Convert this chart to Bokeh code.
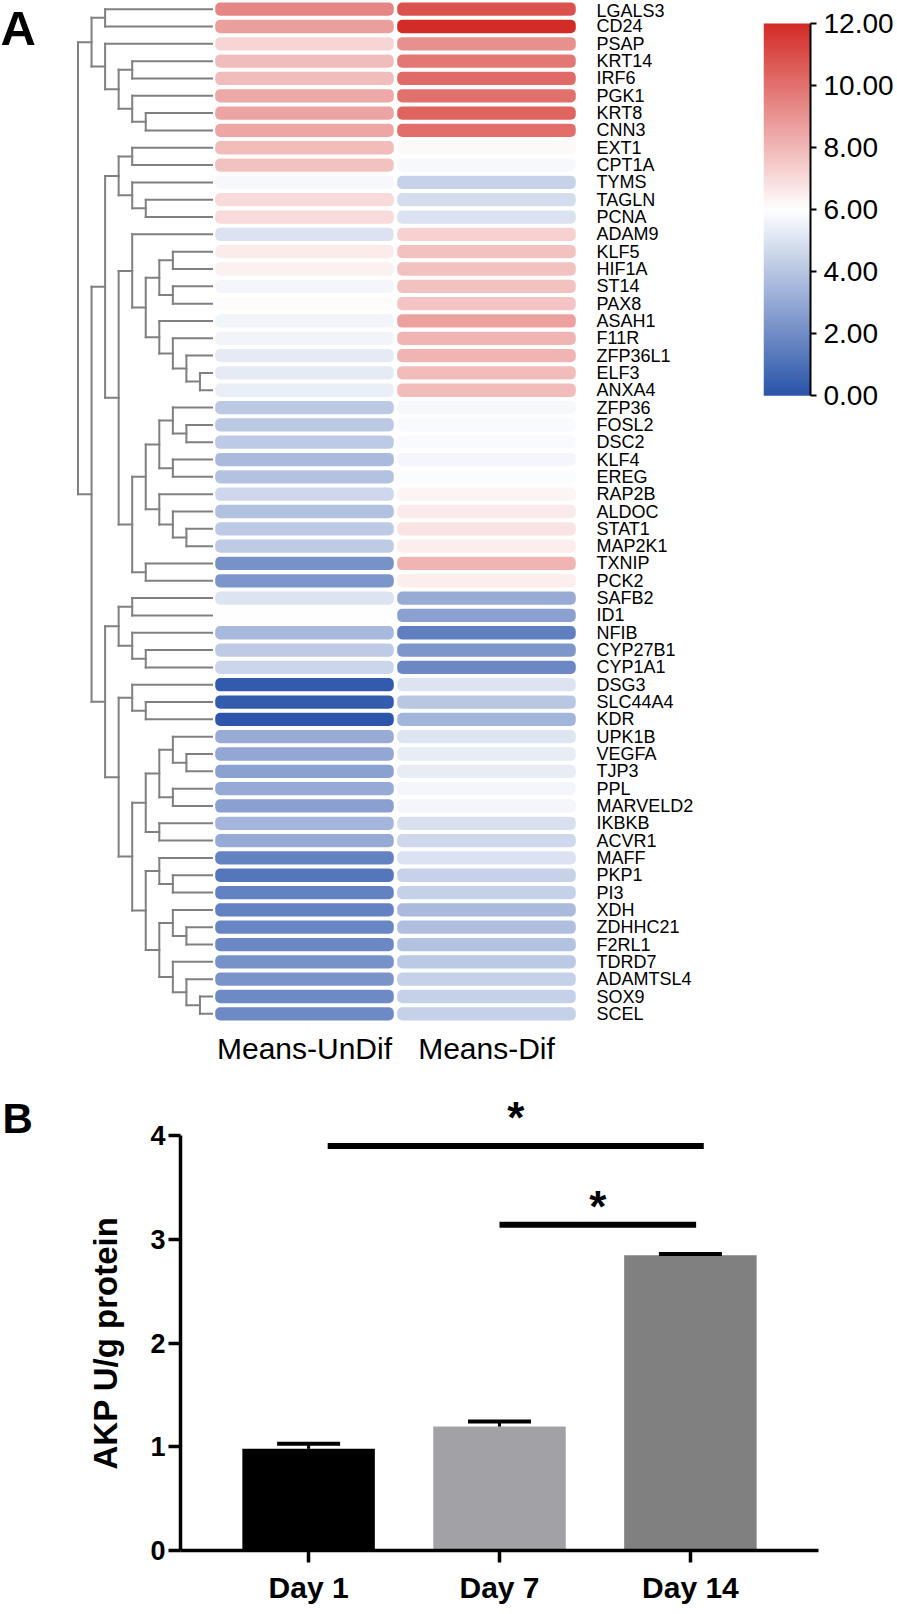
import numpy as np
from bokeh.plotting import figure
from bokeh.models import (ColumnDataSource, FactorRange, Range1d, LinearColorMapper,
                          FixedTicker, NumeralTickFormatter, Whisker, TeeHead)
from bokeh.layouts import row, column
from bokeh.core.properties import value
from bokeh.embed import file_html
from bokeh.resources import INLINE

# ---------------- data: panel A (heatmap) ----------------
genes = ["LGALS3", "CD24", "PSAP", "KRT14", "IRF6", "PGK1", "KRT8", "CNN3", "EXT1", "CPT1A",
         "TYMS", "TAGLN", "PCNA", "ADAM9", "KLF5", "HIF1A", "ST14", "PAX8", "ASAH1", "F11R",
         "ZFP36L1", "ELF3", "ANXA4", "ZFP36", "FOSL2", "DSC2", "KLF4", "EREG", "RAP2B", "ALDOC",
         "STAT1", "MAP2K1", "TXNIP", "PCK2", "SAFB2", "ID1", "NFIB", "CYP27B1", "CYP1A1", "DSG3",
         "SLC44A4", "KDR", "UPK1B", "VEGFA", "TJP3", "PPL", "MARVELD2", "IKBKB", "ACVR1", "MAFF",
         "PKP1", "PI3", "XDH", "ZDHHC21", "F2RL1", "TDRD7", "ADAMTSL4", "SOX9", "SCEL"]
conditions = ["Means-UnDif", "Means-Dif"]
means_undif = [9.4, 8.7, 7.2, 7.85, 7.85, 8.4, 8.55, 8.5, 7.9, 7.7,
               5.75, 7.05, 7.0, 5.0, 6.55, 6.4, 5.7, 6.1, 5.6, 5.6,
               5.25, 5.25, 5.4, 4.1, 4.1, 4.15, 3.6, 3.85, 4.6, 3.8,
               4.15, 4.2, 2.2, 2.3, 5.05, 6.0, 3.55, 4.2, 4.55, 0.25,
               0.3, 0.05, 3.05, 2.95, 2.75, 3.0, 2.7, 3.45, 3.0, 1.6,
               1.2, 1.6, 1.6, 1.75, 1.85, 2.2, 2.25, 1.9, 1.9]
means_dif = [10.9, 12.0, 9.1, 9.8, 10.2, 10.0, 10.4, 10.1, 6.15, 5.75,
             4.45, 4.8, 5.0, 7.3, 7.7, 7.7, 7.7, 7.65, 8.65, 8.1,
             8.1, 7.9, 7.9, 5.75, 5.85, 5.85, 5.7, 5.9, 6.3, 6.6,
             6.75, 6.5, 8.1, 6.5, 3.05, 2.7, 1.5, 2.35, 1.85, 5.05,
             4.05, 3.4, 5.1, 5.3, 5.3, 5.7, 5.7, 4.95, 4.6, 5.0,
             4.45, 4.4, 3.6, 3.75, 3.85, 4.1, 4.4, 4.4, 4.4]

# row dendrogram: (merge height, left, right); leaves are row indices into genes
tree_top = (9, (8, 0, 1),
               (8, 2, (7, (6, 3, 4), (6, 5, (5, 6, 7)))))
tree_mid = (8, (7, (6, 8, 9), (6, 10, (5, 11, 12))),
               (7, (6, 13, (5, (4, (3, 14, 15), (3, 16, 17)),
                               (4, 18, (3, 19, (2, 20, (1, 21, 22)))))),
                   (6, (5, (4, (3, 23, (2, 24, 25)), (3, 26, 27)),
                           (4, 28, (3, 29, (2, 30, 31)))),
                       (5, 32, 33))))
tree_low = (8, (7, (6, 34, 35), (6, 36, (5, 37, 38))),
               (7, (6, 39, (5, 40, 41)),
                   (6, (5, (4, (3, 42, (2, 43, 44)), (3, 45, 46)), (4, 47, 48)),
                       (5, (4, 49, (3, 50, 51)),
                           (4, (3, 52, (2, 53, 54)), (3, 55, (2, 56, (1, 57, 58))))))))
dendrogram = (10, tree_top, (9, tree_mid, tree_low))

colorbar_ticks = [0, 2, 4, 6, 8, 10, 12]

# ---------------- data: panel B (bar chart) ----------------
days = ["Day 1", "Day 7", "Day 14"]
akp_mean = [0.98, 1.195, 2.845]
akp_err = [0.048, 0.048, 0.012]
bar_colors = ["#000000", "#a2a1a6", "#808080"]
y_ticks_b = [0, 1, 2, 3, 4]
y_title_b = "AKP U/g protein"
sig_from = ["Day 1", "Day 7"]
sig_to = ["Day 14", "Day 14"]
sig_x_pad = [(0.10, 0.07), (0.0, 0.03)]
sig_y = [3.90, 3.14]
sig_star_y = [4.26, 3.40]

FONT = "Liberation Sans"

# ---------------- colour map ----------------
def blend(c1, c2, t):
    return tuple(int(round(a + (b - a) * t)) for a, b in zip(c1, c2))

c_low, c_mid, c_high = (42, 84, 170), (255, 255, 255), (211, 43, 38)
palette = []
for i in range(256):
    t = i / 255
    c = blend(c_low, c_mid, t / 0.5) if t < 0.5 else blend(c_mid, c_high, (t - 0.5) / 0.5)
    palette.append("#%02x%02x%02x" % c)
mapper = LinearColorMapper(palette=palette, low=0, high=12)

# ---------------- panel A layout constants ----------------
ROW_H = 1082
BOTTOM_A = 60                   # frame is 1022 px high, top border 0
FRAME_A = ROW_H - BOTTOM_A
n = len(genes)

# ---------------- panel A: dendrogram ----------------
dxs, dys = [], []
def walk(node):
    if isinstance(node, int):
        return float(node), 0.0
    h, a, b = node
    ya, ha = walk(a)
    yb, hb = walk(b)
    dxs.extend([[h, h], [h, ha], [h, hb]])
    dys.extend([[ya, yb], [ya, ya], [yb, yb]])
    return (ya + yb) / 2, h
walk(dendrogram)

D_START = 15.72
dendro = figure(width=213, height=ROW_H, output_backend="svg", toolbar_location=None,
                x_range=Range1d(D_START, 0), y_range=Range1d(n - 0.5, -0.5),
                x_axis_location=None, y_axis_location=None, title=None,
                min_border_left=0, min_border_right=0, min_border_top=0,
                min_border_bottom=BOTTOM_A)
dendro.grid.visible = False
dendro.outline_line_color = None
dendro.multi_line(dxs, dys, line_color="#808080", line_width=2, line_cap="square")
dendro.text(x=[D_START], y=[-0.5], text=["A"], text_font=value(FONT), text_font_style="bold",
            text_font_size="49px", text_align="left", text_baseline="top",
            text_color="black")

# ---------------- panel A: heatmap ----------------
heat_src = ColumnDataSource(dict(
    gene=genes * 2,
    cond=[conditions[0]] * n + [conditions[1]] * n,
    val=means_undif + means_dif,
))
heat = figure(width=527, height=ROW_H, output_backend="svg", toolbar_location=None,
              x_range=FactorRange(*conditions), y_range=FactorRange(*genes[::-1]),
              x_axis_location="below", y_axis_location="right", title=None,
              min_border_left=0, min_border_right=163, min_border_top=0,
              min_border_bottom=BOTTOM_A)
heat.grid.visible = False
heat.outline_line_color = None
cmap_field = {"field": "val", "transform": mapper}
heat.rect(x="cond", y="gene", width=0.926, height=0.19, source=heat_src,
          fill_color=cmap_field, line_color=cmap_field, line_width=10, line_join="round")
for ax in (heat.xaxis[0], heat.yaxis[0]):
    ax.axis_line_color = None
    ax.major_tick_line_color = None
    ax.minor_tick_line_color = None
    ax.major_label_text_font = FONT
    ax.major_label_text_color = "black"
heat.yaxis.major_label_text_font_size = "18px"
heat.yaxis.major_label_standoff = 13
heat.xaxis.major_label_text_font_size = "30px"
heat.xaxis.major_label_standoff = 3

# ---------------- panel A: colour bar ----------------
# the frame shares top/bottom borders with the heatmap row; the bar occupies 0..12
CB_PX = 31.03
cb_top = 12 + 23 / CB_PX
cb_bottom = -(FRAME_A - 395) / CB_PX
cbar = figure(width=156, height=ROW_H, output_backend="svg", toolbar_location=None,
              x_range=Range1d(0, 1), y_range=Range1d(cb_bottom, cb_top),
              x_axis_location=None, y_axis_location="right", title=None,
              min_border_left=23, min_border_right=86, min_border_top=0,
              min_border_bottom=BOTTOM_A)
cbar.grid.visible = False
cbar.outline_line_color = None
grad = np.linspace(0, 12, 256).reshape(-1, 1)
cbar.image(image=[grad], x=0, y=0, dw=1, dh=12, color_mapper=mapper)
cax = cbar.yaxis[0]
cax.ticker = FixedTicker(ticks=colorbar_ticks)
cax.bounds = (0, 12)
cax.formatter = NumeralTickFormatter(format="0.00")
cax.axis_line_width = 2
cax.axis_line_color = "black"
cax.major_tick_out = 6
cax.major_tick_in = 0
cax.major_tick_line_width = 2
cax.minor_tick_line_color = None
cax.major_label_standoff = 7
cax.major_label_text_font = FONT
cax.major_label_text_font_size = "28px"
cax.major_label_text_color = "black"

# ---------------- panel B ----------------
B_H = 530
B_BOTTOM = 62
PX_Y = 103.75
STRIP_W = 130
b_yrange = Range1d(0, (B_H - B_BOTTOM) / PX_Y)
b_src = ColumnDataSource(dict(day=days, mean=akp_mean,
                              upper=[m + e for m, e in zip(akp_mean, akp_err)],
                              color=bar_colors))
pb = figure(width=896 - STRIP_W, height=B_H, output_backend="svg", toolbar_location=None,
            x_range=FactorRange(*days, range_padding=0.171, range_padding_units="absolute"),
            y_range=b_yrange, title=None,
            min_border_left=180 - STRIP_W, min_border_right=78, min_border_top=0,
            min_border_bottom=B_BOTTOM)
pb.grid.visible = False
pb.outline_line_color = None
pb.vbar(x="day", top="mean", width=0.694, fill_color="color", line_color=None, source=b_src)
pb.add_layout(Whisker(source=b_src, base="day", upper="upper", lower="mean",
                      line_width=3, line_color="black", level="overlay",
                      upper_head=TeeHead(size=63, line_width=4, line_color="black"),
                      lower_head=None))

# significance brackets (synthetic categorical coordinates: factor centre = index + 0.5)
sx0 = [days.index(a) + 0.5 + p[0] for a, p in zip(sig_from, sig_x_pad)]
sx1 = [days.index(b) + 0.5 + p[1] for b, p in zip(sig_to, sig_x_pad)]
sig_src = ColumnDataSource(dict(x0=sx0, x1=sx1, y=sig_y,
                                sx=[(a + b) / 2 for a, b in zip(sx0, sx1)],
                                sy=sig_star_y, t=["*"] * len(sig_y)))
pb.segment(x0="x0", y0="y", x1="x1", y1="y", line_width=6, line_color="black",
           line_cap="butt", source=sig_src)
pb.text(x="sx", y="sy", text="t", source=sig_src, text_font=value(FONT),
        text_font_style="bold", text_font_size="44px", text_align="center",
        text_baseline="middle", y_offset=9, text_color="black")

for ax in (pb.xaxis[0], pb.yaxis[0]):
    ax.axis_line_width = 3.5
    ax.axis_line_color = "black"
    ax.major_tick_line_width = 3.5
    ax.major_tick_line_color = "black"
    ax.major_tick_out = 12
    ax.major_tick_in = 0
    ax.minor_tick_line_color = None
    ax.major_label_text_font = FONT
    ax.major_label_text_font_style = "bold"
    ax.major_label_text_color = "black"
pb.xaxis.major_label_text_font_size = "30px"
pb.xaxis.major_label_standoff = 8
pb.yaxis.ticker = FixedTicker(ticks=y_ticks_b)
pb.yaxis.bounds = (y_ticks_b[0], y_ticks_b[-1])
pb.yaxis.major_label_text_font_size = "27px"
pb.yaxis.major_label_standoff = 3

# left strip: panel letter B and the y-axis title (centred on the axis span 0..4)
pbl = figure(width=STRIP_W, height=B_H, output_backend="svg", toolbar_location=None,
             x_range=Range1d(0, 1), y_range=b_yrange, title=None,
             x_axis_location=None, y_axis_location=None,
             min_border_left=0, min_border_right=0, min_border_top=0,
             min_border_bottom=B_BOTTOM)
pbl.grid.visible = False
pbl.outline_line_color = None
pbl.text(x=[0], y=[b_yrange.end], text=["B"], text_font=value(FONT), text_font_style="bold",
         text_font_size="42px", text_align="left", text_baseline="top",
         x_offset=2, y_offset=12, text_color="black")
pbl.text(x=[0], y=[(y_ticks_b[0] + y_ticks_b[-1]) / 2], text=[y_title_b],
         text_font=value(FONT), text_font_style="bold", text_font_size="33px",
         text_align="center", text_baseline="middle", angle=np.pi / 2,
         x_offset=105, text_color="black")

layout = column(row(dendro, heat, cbar), row(pbl, pb))
open("out.html", "w").write(file_html(layout, INLINE, "Heatmap and AKP activity"))
